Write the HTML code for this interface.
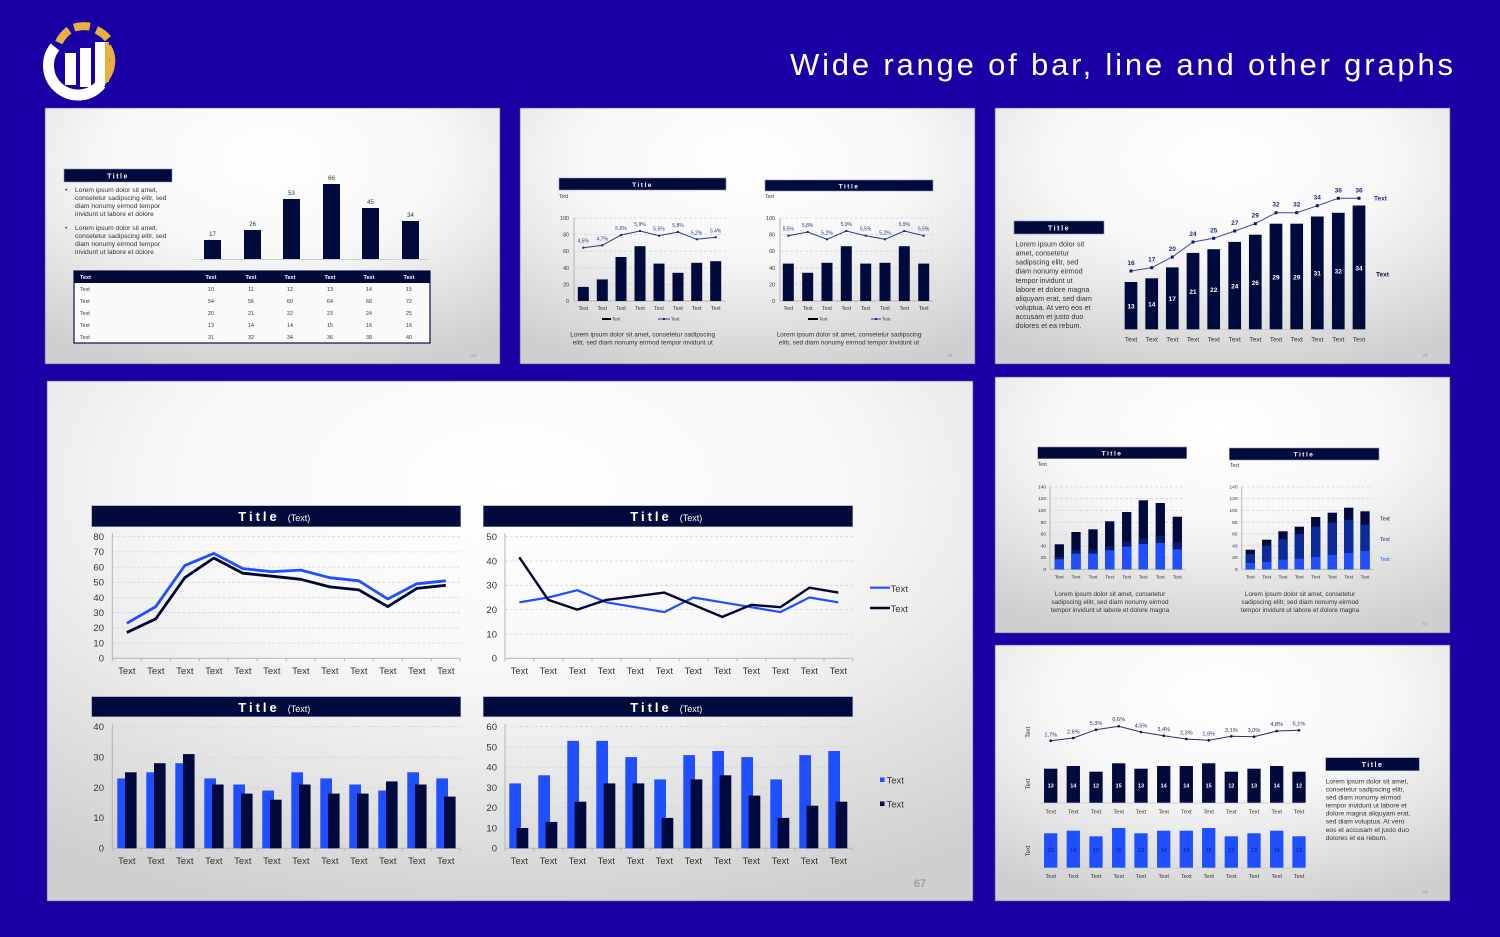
<!DOCTYPE html>
<html><head><meta charset="utf-8"><style>
html,body{margin:0;padding:0;background:#1800a5;}
svg{display:block}
text{font-family:"Liberation Sans",sans-serif;}
.g{fill:#333}
.w{fill:#fff}
.tb{fill:#000a3c;stroke:#8f93b8;stroke-width:0.6}
.grid{stroke:#d4d4d4;stroke-width:0.8;stroke-dasharray:3 2}
.ax{stroke:#b5b5b5;stroke-width:1}
.nv{fill:#000a3c}
.bl{fill:#1f4fff}
</style></head><body>
<svg width="1500" height="937" viewBox="0 0 1500 937" xmlns="http://www.w3.org/2000/svg">
<defs>
<radialGradient id="sg" cx="0.5" cy="0.2" r="0.85">
<stop offset="0" stop-color="#ffffff"/><stop offset="0.45" stop-color="#f7f7f7"/><stop offset="1" stop-color="#cfcfcf"/>
</radialGradient>
</defs>
<rect x="0" y="0" width="1500" height="937" fill="#1800a5"/>

<!-- Logo -->
<g fill="none" stroke-linecap="butt">
<path d="M 58.8 42.6 A 33 33 0 0 1 69.1 30.1" stroke="#e8b040" stroke-width="8"/>
<path d="M 74.1 27.6 A 33 33 0 0 1 89.9 26.7" stroke="#e8b040" stroke-width="8"/>
<path d="M 96.4 29.9 A 33 33 0 0 1 107.9 38.7" stroke="#e8b040" stroke-width="8"/>
<path d="M 55 47 A 29 29 0 0 0 101 84" stroke="#fff" stroke-width="11"/>
<path d="M 101 84 A 29 29 0 0 0 108 46" stroke="#e8b040" stroke-width="6"/>
</g>
<rect x="65" y="53" width="11" height="32" fill="#fff"/>
<rect x="80" y="48" width="11" height="39" fill="#fff"/>
<rect x="95" y="42" width="10" height="44" fill="#fff"/>
<rect x="105" y="42" width="4" height="40" fill="#e8b040"/>

<text x="790" y="75" font-size="31" fill="#fff" textLength="663" lengthAdjust="spacing">Wide range of bar, line and other graphs</text>

<!-- ===== Slide 1 ===== -->
<rect x="45" y="108" width="455" height="256" fill="url(#sg)" stroke="#55557a" stroke-width="0.6"/>
<rect class="tb" x="64" y="169" width="108" height="13"/>
<text class="w" x="118" y="178.5" font-size="7" font-weight="bold" letter-spacing="1.5" text-anchor="middle">Title</text>
<g class="g" font-size="6.7">
<text x="65" y="192">•</text><text x="75" y="192">Lorem ipsum dolor sit amet,</text>
<text x="75" y="200">consetetur sadipscing elitr, sed</text>
<text x="75" y="208">diam nonumy eirmod tempor</text>
<text x="75" y="216">invidunt ut labore et dolore</text>
<text x="65" y="230">•</text><text x="75" y="230">Lorem ipsum dolor sit amet,</text>
<text x="75" y="238">consetetur sadipscing elitr, sed</text>
<text x="75" y="246">diam nonumy eirmod tempor</text>
<text x="75" y="254">invidunt ut labore et dolore</text>
</g>
<line x1="193" y1="259.5" x2="429" y2="259.5" stroke="#d0d0d0"/>
<g class="nv">
<rect x="204" y="240" width="17" height="19"/>
<rect x="244" y="230" width="17" height="29"/>
<rect x="283" y="199" width="17" height="60"/>
<rect x="323" y="184" width="17" height="75"/>
<rect x="362" y="208" width="17" height="51"/>
<rect x="402" y="221" width="17" height="38"/>
</g>
<g class="g" font-size="6" text-anchor="middle">
<text x="212.5" y="236">17</text><text x="252.5" y="226">26</text><text x="291.5" y="195">53</text>
<text x="331.5" y="180">66</text><text x="370.5" y="204">45</text><text x="410.5" y="217">34</text>
</g>
<rect x="74" y="271" width="356" height="72" fill="#fafafa" stroke="#0a1045" stroke-width="1.2"/>
<rect x="74" y="271" width="356" height="12" fill="#000a3c"/>
<g class="w" font-size="5.5" font-weight="bold">
<text x="80" y="279">Text</text>
<g text-anchor="middle"><text x="211" y="279">Text</text><text x="251" y="279">Text</text><text x="290" y="279">Text</text><text x="330" y="279">Text</text><text x="369" y="279">Text</text><text x="409" y="279">Text</text></g>
</g>
<g class="g" font-size="5.3">
<text x="80" y="291">Text</text><text x="80" y="303">Text</text><text x="80" y="315">Text</text><text x="80" y="327">Text</text><text x="80" y="339">Text</text>
<g text-anchor="middle">
<text x="211" y="291">10</text><text x="251" y="291">11</text><text x="290" y="291">12</text><text x="330" y="291">13</text><text x="369" y="291">14</text><text x="409" y="291">15</text>
<text x="211" y="303">54</text><text x="251" y="303">56</text><text x="290" y="303">60</text><text x="330" y="303">64</text><text x="369" y="303">68</text><text x="409" y="303">72</text>
<text x="211" y="315">20</text><text x="251" y="315">21</text><text x="290" y="315">22</text><text x="330" y="315">23</text><text x="369" y="315">24</text><text x="409" y="315">25</text>
<text x="211" y="327">13</text><text x="251" y="327">14</text><text x="290" y="327">14</text><text x="330" y="327">15</text><text x="369" y="327">16</text><text x="409" y="327">16</text>
<text x="211" y="339">31</text><text x="251" y="339">32</text><text x="290" y="339">34</text><text x="330" y="339">36</text><text x="369" y="339">38</text><text x="409" y="339">40</text>
</g></g>
<text x="473" y="357" font-size="4.5" fill="#999" text-anchor="middle">119</text>

<!-- ===== Slide 2 ===== -->
<rect x="520" y="108" width="455" height="256" fill="url(#sg)" stroke="#55557a" stroke-width="0.6"/>
<!-- chart 1 -->
<rect class="tb" x="559" y="178" width="167" height="12"/>
<text class="w" x="642.5" y="187" font-size="6.5" font-weight="bold" letter-spacing="1.5" text-anchor="middle">Title</text>
<text class="g" x="559" y="198" font-size="5">Text</text>
<g class="grid"><line x1="574" y1="218" x2="726" y2="218"/><line x1="574" y1="234.6" x2="726" y2="234.6"/><line x1="574" y1="251.2" x2="726" y2="251.2"/><line x1="574" y1="267.8" x2="726" y2="267.8"/><line x1="574" y1="284.4" x2="726" y2="284.4"/></g>
<line class="ax" x1="574" y1="218" x2="574" y2="301"/><line class="ax" x1="574" y1="301" x2="726" y2="301"/>
<g class="g" font-size="5.3" text-anchor="end"><text x="569" y="220">100</text><text x="569" y="236.6">80</text><text x="569" y="253.2">60</text><text x="569" y="269.8">40</text><text x="569" y="286.4">20</text><text x="569" y="303">0</text></g>
<g class="nv">
<rect x="577.8" y="286.9" width="11" height="14.1"/><rect x="596.8" y="279.4" width="11" height="21.6"/><rect x="615.5" y="257" width="11" height="44"/><rect x="634.5" y="246.2" width="11" height="54.8"/>
<rect x="653.5" y="263.6" width="11" height="37.4"/><rect x="672.5" y="272.8" width="11" height="28.2"/><rect x="691.2" y="262.8" width="11" height="38.2"/><rect x="710.2" y="261.2" width="11" height="39.8"/>
</g>
<polyline points="583.3,247.7 602.3,245.3 621,235 640,231 659,235.7 678,232 696.7,239.3 715.7,237.3" fill="none" stroke="#2b3a8c" stroke-width="1"/>
<g fill="#1a2570"><rect x="582.3" y="246.7" width="2" height="2"/><rect x="601.3" y="244.3" width="2" height="2"/><rect x="620" y="234" width="2" height="2"/><rect x="639" y="230" width="2" height="2"/><rect x="658" y="234.7" width="2" height="2"/><rect x="677" y="231" width="2" height="2"/><rect x="695.7" y="238.3" width="2" height="2"/><rect x="714.7" y="236.3" width="2" height="2"/></g>
<g fill="#2b3a8c" font-size="5" text-anchor="middle"><text x="583.3" y="242.7">4,5%</text><text x="602.3" y="240.3">4,7%</text><text x="621" y="230">5,6%</text><text x="640" y="226">5,9%</text><text x="659" y="230.7">5,5%</text><text x="678" y="227">5,8%</text><text x="696.7" y="234.3">5,2%</text><text x="715.7" y="232.3">5,4%</text></g>
<g class="g" font-size="5.3" text-anchor="middle"><text x="583.3" y="310">Text</text><text x="602.3" y="310">Text</text><text x="621" y="310">Text</text><text x="640" y="310">Text</text><text x="659" y="310">Text</text><text x="678" y="310">Text</text><text x="696.7" y="310">Text</text><text x="715.7" y="310">Text</text></g>
<line x1="602" y1="319" x2="611" y2="319" stroke="#000" stroke-width="2"/><text class="g" x="612" y="320.5" font-size="4.6">Text</text>
<line x1="658" y1="319" x2="670" y2="319" stroke="#2b3a8c" stroke-width="1"/><rect x="663" y="318" width="2" height="2" fill="#1a2570"/><text class="g" x="671" y="320.5" font-size="4.6">Text</text>
<g class="g" font-size="6.5" text-anchor="middle"><text x="642.7" y="336.5">Lorem ipsum dolor sit amet, consetetur sadipscing</text><text x="642.7" y="344.5">elitr, sed diam nonumy eirmod tempor invidunt ut</text></g>
<!-- chart 2 -->
<rect class="tb" x="765" y="180" width="168" height="11"/>
<text class="w" x="849" y="188.5" font-size="6.5" font-weight="bold" letter-spacing="1.5" text-anchor="middle">Title</text>
<text class="g" x="765" y="198" font-size="5">Text</text>
<g class="grid"><line x1="780" y1="218" x2="933" y2="218"/><line x1="780" y1="234.6" x2="933" y2="234.6"/><line x1="780" y1="251.2" x2="933" y2="251.2"/><line x1="780" y1="267.8" x2="933" y2="267.8"/><line x1="780" y1="284.4" x2="933" y2="284.4"/></g>
<line class="ax" x1="780" y1="218" x2="780" y2="301"/><line class="ax" x1="780" y1="301" x2="933" y2="301"/>
<g class="g" font-size="5.3" text-anchor="end"><text x="775" y="220">100</text><text x="775" y="236.6">80</text><text x="775" y="253.2">60</text><text x="775" y="269.8">40</text><text x="775" y="286.4">20</text><text x="775" y="303">0</text></g>
<g class="nv">
<rect x="782.8" y="263.6" width="11" height="37.4"/><rect x="802.2" y="272.8" width="11" height="28.2"/><rect x="821.5" y="262.8" width="11" height="38.2"/><rect x="840.8" y="246.2" width="11" height="54.8"/>
<rect x="860.2" y="263.6" width="11" height="37.4"/><rect x="879.5" y="262.8" width="11" height="38.2"/><rect x="898.8" y="246.2" width="11" height="54.8"/><rect x="918.2" y="263.6" width="11" height="37.4"/>
</g>
<polyline points="788.3,235.7 807.7,232 827,239.3 846.3,231 865.7,235.7 885,239.3 904.3,231 923.7,235.7" fill="none" stroke="#2b3a8c" stroke-width="1"/>
<g fill="#1a2570"><rect x="787.3" y="234.7" width="2" height="2"/><rect x="806.7" y="231" width="2" height="2"/><rect x="826" y="238.3" width="2" height="2"/><rect x="845.3" y="230" width="2" height="2"/><rect x="864.7" y="234.7" width="2" height="2"/><rect x="884" y="238.3" width="2" height="2"/><rect x="903.3" y="230" width="2" height="2"/><rect x="922.7" y="234.7" width="2" height="2"/></g>
<g fill="#2b3a8c" font-size="5" text-anchor="middle"><text x="788.3" y="230.7">5,5%</text><text x="807.7" y="227">5,8%</text><text x="827" y="234.3">5,2%</text><text x="846.3" y="226">5,9%</text><text x="865.7" y="230.7">5,5%</text><text x="885" y="234.3">5,2%</text><text x="904.3" y="226">5,9%</text><text x="923.7" y="230.7">5,5%</text></g>
<g class="g" font-size="5.3" text-anchor="middle"><text x="788.3" y="310">Text</text><text x="807.7" y="310">Text</text><text x="827" y="310">Text</text><text x="846.3" y="310">Text</text><text x="865.7" y="310">Text</text><text x="885" y="310">Text</text><text x="904.3" y="310">Text</text><text x="923.7" y="310">Text</text></g>
<line x1="808" y1="319" x2="818" y2="319" stroke="#000" stroke-width="2"/><text class="g" x="819" y="320.5" font-size="4.6">Text</text>
<line x1="871" y1="319" x2="881" y2="319" stroke="#2b3a8c" stroke-width="1"/><rect x="875" y="318" width="2" height="2" fill="#1a2570"/><text class="g" x="882" y="320.5" font-size="4.6">Text</text>
<g class="g" font-size="6.5" text-anchor="middle"><text x="849" y="336.5">Lorem ipsum dolor sit amet, consetetur sadipscing</text><text x="849" y="344.5">elitr, sed diam nonumy eirmod tempor invidunt ut</text></g>
<text x="950" y="357" font-size="4.5" fill="#999" text-anchor="middle">59</text>

<!-- ===== Slide 3 ===== -->
<rect x="995" y="108" width="455" height="256" fill="url(#sg)" stroke="#55557a" stroke-width="0.6"/>
<rect class="tb" x="1014" y="221" width="90" height="13"/>
<text class="w" x="1059" y="230.5" font-size="7.2" font-weight="bold" letter-spacing="1.5" text-anchor="middle">Title</text>
<g class="g" font-size="7.2">
<text x="1015.5" y="246.5">Lorem ipsum dolor sit</text><text x="1015.5" y="255.5">amet, consetetur</text><text x="1015.5" y="264.5">sadipscing elitr, sed</text><text x="1015.5" y="273.5">diam nonumy eirmod</text><text x="1015.5" y="283">tempor invidunt ut</text>
<text x="1015.5" y="292">labore et dolore magna</text><text x="1015.5" y="301">aliquyam erat, sed diam</text><text x="1015.5" y="310">voluptua. At vero eos et</text><text x="1015.5" y="319">accusam et justo duo</text><text x="1015.5" y="328">dolores et ea rebum.</text>
</g>
<line x1="1120" y1="329.5" x2="1370" y2="329.5" stroke="#d0d0d0"/>
<g class="nv">
<rect x="1124.65" y="282" width="12.7" height="47.3"/><rect x="1145.35" y="278.3" width="12.7" height="51"/><rect x="1165.95" y="267.4" width="12.7" height="61.9"/><rect x="1186.65" y="252.9" width="12.7" height="76.4"/>
<rect x="1207.35" y="249.2" width="12.7" height="80.1"/><rect x="1228.35" y="241.9" width="12.7" height="87.4"/><rect x="1248.95" y="234.7" width="12.7" height="94.6"/><rect x="1269.65" y="223.7" width="12.7" height="105.6"/>
<rect x="1290.35" y="223.7" width="12.7" height="105.6"/><rect x="1310.95" y="216.5" width="12.7" height="112.8"/><rect x="1331.95" y="212.8" width="12.7" height="116.5"/><rect x="1352.65" y="205.5" width="12.7" height="123.8"/>
</g>
<g class="w" font-size="6.5" font-weight="bold" text-anchor="middle">
<text x="1131" y="308.7">13</text><text x="1151.7" y="306.7">14</text><text x="1172.3" y="301">17</text><text x="1193" y="294">21</text><text x="1213.7" y="292">22</text><text x="1234.7" y="288.3">24</text>
<text x="1255.3" y="285">26</text><text x="1276" y="279.3">29</text><text x="1296.7" y="279.3">29</text><text x="1317.3" y="275.7">31</text><text x="1338.3" y="273.7">32</text><text x="1359" y="270.3">34</text>
</g>
<polyline points="1131,271 1151.7,267.7 1172.3,257 1193,242 1213.7,238.3 1234.7,231 1255.3,223.7 1276,212.7 1296.7,212.7 1317.3,205.7 1338.3,198.3 1359,198.3" fill="none" stroke="#3a4a9a" stroke-width="1"/>
<g fill="#0b1a70"><rect x="1129.5" y="269.5" width="3" height="3"/><rect x="1150.2" y="266.2" width="3" height="3"/><rect x="1170.8" y="255.5" width="3" height="3"/><rect x="1191.5" y="240.5" width="3" height="3"/><rect x="1212.2" y="236.8" width="3" height="3"/><rect x="1233.2" y="229.5" width="3" height="3"/><rect x="1253.8" y="222.2" width="3" height="3"/><rect x="1274.5" y="211.2" width="3" height="3"/><rect x="1295.2" y="211.2" width="3" height="3"/><rect x="1315.8" y="204.2" width="3" height="3"/><rect x="1336.8" y="196.8" width="3" height="3"/><rect x="1357.5" y="196.8" width="3" height="3"/></g>
<g fill="#1a2a80" font-size="6.5" font-weight="bold" text-anchor="middle">
<text x="1131" y="265">16</text><text x="1151.7" y="261.7">17</text><text x="1172.3" y="251">20</text><text x="1193" y="236">24</text><text x="1213.7" y="232.3">25</text><text x="1234.7" y="225">27</text>
<text x="1255.3" y="217.7">29</text><text x="1276" y="206.7">32</text><text x="1296.7" y="206.7">32</text><text x="1317.3" y="199.7">34</text><text x="1338.3" y="192.3">36</text><text x="1359" y="192.3">36</text>
</g>
<g class="g" font-size="6.8" text-anchor="middle">
<text x="1131" y="341.5">Text</text><text x="1151.7" y="341.5">Text</text><text x="1172.3" y="341.5">Text</text><text x="1193" y="341.5">Text</text><text x="1213.7" y="341.5">Text</text><text x="1234.7" y="341.5">Text</text>
<text x="1255.3" y="341.5">Text</text><text x="1276" y="341.5">Text</text><text x="1296.7" y="341.5">Text</text><text x="1317.3" y="341.5">Text</text><text x="1338.3" y="341.5">Text</text><text x="1359" y="341.5">Text</text>
</g>
<text x="1374" y="200.5" font-size="6.5" font-weight="bold" fill="#1a2a80">Text</text>
<text x="1376" y="276.5" font-size="6.5" font-weight="bold" fill="#0a1040">Text</text>
<text x="1425" y="357" font-size="4.5" fill="#999" text-anchor="middle">75</text>

<!-- ===== Big slide ===== -->
<rect x="47" y="381" width="926" height="520" fill="url(#sg)" stroke="#55557a" stroke-width="0.6"/>
<!-- Chart A -->
<rect class="tb" x="91.7" y="505.7" width="369" height="21"/>
<text class="w" x="259" y="521" font-size="13" font-weight="bold" letter-spacing="3" text-anchor="middle">Title</text>
<text class="w" x="299" y="521" font-size="9" text-anchor="middle">(Text)</text>
<g class="grid"><line x1="112.3" y1="536.7" x2="460" y2="536.7"/><line x1="112.3" y1="551.9" x2="460" y2="551.9"/><line x1="112.3" y1="567.1" x2="460" y2="567.1"/><line x1="112.3" y1="582.3" x2="460" y2="582.3"/><line x1="112.3" y1="597.5" x2="460" y2="597.5"/><line x1="112.3" y1="612.7" x2="460" y2="612.7"/><line x1="112.3" y1="627.9" x2="460" y2="627.9"/><line x1="112.3" y1="643.1" x2="460" y2="643.1"/></g>
<line class="ax" x1="112.3" y1="533" x2="112.3" y2="658.3"/><line class="ax" x1="112.3" y1="658.3" x2="460" y2="658.3"/>
<path class="ax" d="M112.3 658.3v3M141.3 658.3v3M170.3 658.3v3M199.3 658.3v3M228.3 658.3v3M257.3 658.3v3M286.3 658.3v3M315.3 658.3v3M344.3 658.3v3M373.3 658.3v3M402.3 658.3v3M431.3 658.3v3M460 658.3v3"/>
<g class="g" font-size="9.5" text-anchor="end"><text x="104" y="540">80</text><text x="104" y="555.2">70</text><text x="104" y="570.4">60</text><text x="104" y="585.6">50</text><text x="104" y="600.8">40</text><text x="104" y="616">30</text><text x="104" y="631.2">20</text><text x="104" y="646.4">10</text><text x="104" y="661.6">0</text></g>
<polyline points="126.8,623.3 155.8,606.6 184.8,565.6 213.8,553.4 242.8,568.6 271.8,571.7 300.8,570.1 329.8,577.7 358.8,580.8 387.8,599 416.8,583.8 445.8,580.8" fill="none" stroke="#1f4fff" stroke-width="2.8" stroke-linejoin="round"/>
<polyline points="126.8,632.5 155.8,618.8 184.8,577.7 213.8,558 242.8,573.2 271.8,576.2 300.8,579.3 329.8,586.9 358.8,589.9 387.8,606.6 416.8,588.4 445.8,585.3" fill="none" stroke="#000633" stroke-width="2.8" stroke-linejoin="round"/>
<g class="g" font-size="9.5" text-anchor="middle">
<text x="126.8" y="674">Text</text><text x="155.8" y="674">Text</text><text x="184.8" y="674">Text</text><text x="213.8" y="674">Text</text><text x="242.8" y="674">Text</text><text x="271.8" y="674">Text</text>
<text x="300.8" y="674">Text</text><text x="329.8" y="674">Text</text><text x="358.8" y="674">Text</text><text x="387.8" y="674">Text</text><text x="416.8" y="674">Text</text><text x="445.8" y="674">Text</text>
</g>
<!-- Chart B -->
<rect class="tb" x="483.3" y="505.7" width="369.4" height="21"/>
<text class="w" x="651" y="521" font-size="13" font-weight="bold" letter-spacing="3" text-anchor="middle">Title</text>
<text class="w" x="691" y="521" font-size="9" text-anchor="middle">(Text)</text>
<g class="grid"><line x1="505" y1="536.7" x2="852.7" y2="536.7"/><line x1="505" y1="561" x2="852.7" y2="561"/><line x1="505" y1="585.3" x2="852.7" y2="585.3"/><line x1="505" y1="609.6" x2="852.7" y2="609.6"/><line x1="505" y1="634" x2="852.7" y2="634"/></g>
<line class="ax" x1="505" y1="533" x2="505" y2="658.3"/><line class="ax" x1="505" y1="658.3" x2="852.7" y2="658.3"/>
<path class="ax" d="M505 658.3v3M534 658.3v3M563 658.3v3M592 658.3v3M621 658.3v3M650 658.3v3M679 658.3v3M708 658.3v3M737 658.3v3M766 658.3v3M795 658.3v3M824 658.3v3M852.7 658.3v3"/>
<g class="g" font-size="9.5" text-anchor="end"><text x="497" y="540">50</text><text x="497" y="564.3">40</text><text x="497" y="588.6">30</text><text x="497" y="612.9">20</text><text x="497" y="637.3">10</text><text x="497" y="661.6">0</text></g>
<polyline points="519.3,602.3 548.3,597.5 577.3,590.2 606.3,602.3 635.3,607.2 664.3,612.1 693.3,597.5 722.3,602.3 751.3,607.2 780.3,612.1 809.3,597.5 838.3,602.3" fill="none" stroke="#1f4fff" stroke-width="2.2" stroke-linejoin="round"/>
<polyline points="519.3,557.3 548.3,599.9 577.3,609.6 606.3,599.9 635.3,596.3 664.3,592.6 693.3,604.8 722.3,616.9 751.3,604.8 780.3,607.2 809.3,587.7 838.3,592.6" fill="none" stroke="#000633" stroke-width="2.4" stroke-linejoin="round"/>
<g class="g" font-size="9.5" text-anchor="middle">
<text x="519.3" y="674">Text</text><text x="548.3" y="674">Text</text><text x="577.3" y="674">Text</text><text x="606.3" y="674">Text</text><text x="635.3" y="674">Text</text><text x="664.3" y="674">Text</text>
<text x="693.3" y="674">Text</text><text x="722.3" y="674">Text</text><text x="751.3" y="674">Text</text><text x="780.3" y="674">Text</text><text x="809.3" y="674">Text</text><text x="838.3" y="674">Text</text>
</g>
<line x1="870" y1="587.7" x2="890" y2="587.7" stroke="#1f4fff" stroke-width="2.2"/><text class="g" x="890.5" y="592" font-size="9.5">Text</text>
<line x1="870" y1="608" x2="890" y2="608" stroke="#000633" stroke-width="2.4"/><text class="g" x="890.5" y="612" font-size="9.5">Text</text>
<!-- Chart C -->
<rect class="tb" x="91.7" y="696.7" width="369" height="20"/>
<text class="w" x="259" y="712" font-size="13" font-weight="bold" letter-spacing="3" text-anchor="middle">Title</text>
<text class="w" x="299" y="712" font-size="9" text-anchor="middle">(Text)</text>
<g class="grid"><line x1="112.3" y1="726.7" x2="460" y2="726.7"/><line x1="112.3" y1="757.1" x2="460" y2="757.1"/><line x1="112.3" y1="787.5" x2="460" y2="787.5"/><line x1="112.3" y1="817.9" x2="460" y2="817.9"/></g>
<line class="ax" x1="112.3" y1="724" x2="112.3" y2="848.3"/><line class="ax" x1="112.3" y1="848.3" x2="460" y2="848.3"/>
<path class="ax" d="M112.3 848.3v3M141.3 848.3v3M170.3 848.3v3M199.3 848.3v3M228.3 848.3v3M257.3 848.3v3M286.3 848.3v3M315.3 848.3v3M344.3 848.3v3M373.3 848.3v3M402.3 848.3v3M431.3 848.3v3M460 848.3v3"/>
<g class="g" font-size="9.5" text-anchor="end"><text x="104" y="730">40</text><text x="104" y="760.4">30</text><text x="104" y="790.8">20</text><text x="104" y="821.2">10</text><text x="104" y="851.6">0</text></g>
<g class="bl">
<rect x="117.3" y="778.4" width="11.7" height="69.9"/><rect x="146.3" y="772.3" width="11.7" height="76"/><rect x="175.3" y="763.2" width="11.7" height="85.1"/><rect x="204.3" y="778.4" width="11.7" height="69.9"/>
<rect x="233.3" y="784.5" width="11.7" height="63.8"/><rect x="262.3" y="790.5" width="11.7" height="57.8"/><rect x="291.3" y="772.3" width="11.7" height="76"/><rect x="320.3" y="778.4" width="11.7" height="69.9"/>
<rect x="349.3" y="784.5" width="11.7" height="63.8"/><rect x="378.3" y="790.5" width="11.7" height="57.8"/><rect x="407.3" y="772.3" width="11.7" height="76"/><rect x="436.3" y="778.4" width="11.7" height="69.9"/>
</g>
<g class="nv">
<rect x="125" y="772.3" width="11.6" height="76"/><rect x="154" y="763.2" width="11.6" height="85.1"/><rect x="183" y="754.1" width="11.6" height="94.2"/><rect x="212" y="784.5" width="11.6" height="63.8"/>
<rect x="241" y="793.6" width="11.6" height="54.7"/><rect x="270" y="799.7" width="11.6" height="48.6"/><rect x="299" y="784.5" width="11.6" height="63.8"/><rect x="328" y="793.6" width="11.6" height="54.7"/>
<rect x="357" y="793.6" width="11.6" height="54.7"/><rect x="386" y="781.4" width="11.6" height="66.9"/><rect x="415" y="784.5" width="11.6" height="63.8"/><rect x="444" y="796.6" width="11.6" height="51.7"/>
</g>
<g class="g" font-size="9.5" text-anchor="middle">
<text x="126.8" y="864">Text</text><text x="155.8" y="864">Text</text><text x="184.8" y="864">Text</text><text x="213.8" y="864">Text</text><text x="242.8" y="864">Text</text><text x="271.8" y="864">Text</text>
<text x="300.8" y="864">Text</text><text x="329.8" y="864">Text</text><text x="358.8" y="864">Text</text><text x="387.8" y="864">Text</text><text x="416.8" y="864">Text</text><text x="445.8" y="864">Text</text>
</g>
<!-- Chart D -->
<rect class="tb" x="483.3" y="696.7" width="369.4" height="20"/>
<text class="w" x="651" y="712" font-size="13" font-weight="bold" letter-spacing="3" text-anchor="middle">Title</text>
<text class="w" x="691" y="712" font-size="9" text-anchor="middle">(Text)</text>
<g class="grid"><line x1="505" y1="726.7" x2="852.7" y2="726.7"/><line x1="505" y1="747" x2="852.7" y2="747"/><line x1="505" y1="767.2" x2="852.7" y2="767.2"/><line x1="505" y1="787.5" x2="852.7" y2="787.5"/><line x1="505" y1="807.8" x2="852.7" y2="807.8"/><line x1="505" y1="828" x2="852.7" y2="828"/></g>
<line class="ax" x1="505" y1="724" x2="505" y2="848.3"/><line class="ax" x1="505" y1="848.3" x2="852.7" y2="848.3"/>
<path class="ax" d="M505 848.3v3M534 848.3v3M563 848.3v3M592 848.3v3M621 848.3v3M650 848.3v3M679 848.3v3M708 848.3v3M737 848.3v3M766 848.3v3M795 848.3v3M824 848.3v3M852.7 848.3v3"/>
<g class="g" font-size="9.5" text-anchor="end"><text x="497" y="730">60</text><text x="497" y="750.3">50</text><text x="497" y="770.5">40</text><text x="497" y="790.8">30</text><text x="497" y="811.1">20</text><text x="497" y="831.3">10</text><text x="497" y="851.6">0</text></g>
<g class="bl">
<rect x="509.3" y="783.4" width="11.7" height="64.9"/><rect x="538.3" y="775.3" width="11.7" height="73"/><rect x="567.3" y="740.9" width="11.7" height="107.4"/><rect x="596.3" y="740.9" width="11.7" height="107.4"/>
<rect x="625.3" y="757.1" width="11.7" height="91.2"/><rect x="654.3" y="779.4" width="11.7" height="68.9"/><rect x="683.3" y="755.1" width="11.7" height="93.2"/><rect x="712.3" y="751" width="11.7" height="97.3"/>
<rect x="741.3" y="757.1" width="11.7" height="91.2"/><rect x="770.3" y="779.4" width="11.7" height="68.9"/><rect x="799.3" y="755.1" width="11.7" height="93.2"/><rect x="828.3" y="751" width="11.7" height="97.3"/>
</g>
<g class="nv">
<rect x="516.6" y="828" width="11.7" height="20.3"/><rect x="545.6" y="821.9" width="11.7" height="26.4"/><rect x="574.6" y="801.7" width="11.7" height="46.6"/><rect x="603.6" y="783.4" width="11.7" height="64.9"/>
<rect x="632.6" y="783.4" width="11.7" height="64.9"/><rect x="661.6" y="817.9" width="11.7" height="30.4"/><rect x="690.6" y="779.4" width="11.7" height="68.9"/><rect x="719.6" y="775.3" width="11.7" height="73"/>
<rect x="748.6" y="795.6" width="11.7" height="52.7"/><rect x="777.6" y="817.9" width="11.7" height="30.4"/><rect x="806.6" y="805.7" width="11.7" height="42.6"/><rect x="835.6" y="801.7" width="11.7" height="46.6"/>
</g>
<g class="g" font-size="9.5" text-anchor="middle">
<text x="519.3" y="864">Text</text><text x="548.3" y="864">Text</text><text x="577.3" y="864">Text</text><text x="606.3" y="864">Text</text><text x="635.3" y="864">Text</text><text x="664.3" y="864">Text</text>
<text x="693.3" y="864">Text</text><text x="722.3" y="864">Text</text><text x="751.3" y="864">Text</text><text x="780.3" y="864">Text</text><text x="809.3" y="864">Text</text><text x="838.3" y="864">Text</text>
</g>
<rect x="880" y="777.5" width="4.5" height="4.5" fill="#1f4fff"/><text class="g" x="886.5" y="783.5" font-size="9.5">Text</text>
<rect x="880" y="801.5" width="4.5" height="4.5" fill="#000a3c"/><text class="g" x="886.5" y="807.5" font-size="9.5">Text</text>
<text x="920" y="887" font-size="11" fill="#888" text-anchor="middle">67</text>

<!-- ===== Slide 5 ===== -->
<rect x="995" y="377" width="455" height="256" fill="url(#sg)" stroke="#55557a" stroke-width="0.6"/>
<!-- chart 1 -->
<rect class="tb" x="1037.7" y="447" width="149" height="11.7"/>
<text class="w" x="1112" y="455.5" font-size="6.5" font-weight="bold" letter-spacing="1.5" text-anchor="middle">Title</text>
<text class="g" x="1037.7" y="466" font-size="5">Text</text>
<g class="grid"><line x1="1050" y1="487" x2="1185" y2="487"/><line x1="1050" y1="498.7" x2="1185" y2="498.7"/><line x1="1050" y1="510.5" x2="1185" y2="510.5"/><line x1="1050" y1="522.3" x2="1185" y2="522.3"/><line x1="1050" y1="534" x2="1185" y2="534"/><line x1="1050" y1="545.8" x2="1185" y2="545.8"/><line x1="1050" y1="557.5" x2="1185" y2="557.5"/></g>
<line class="ax" x1="1050" y1="487" x2="1050" y2="569.3"/><line class="ax" x1="1050" y1="569.3" x2="1185" y2="569.3"/>
<g class="g" font-size="4.8" text-anchor="end"><text x="1046" y="488.5">140</text><text x="1046" y="500.2">120</text><text x="1046" y="512">100</text><text x="1046" y="523.8">80</text><text x="1046" y="535.5">60</text><text x="1046" y="547.3">40</text><text x="1046" y="559">20</text><text x="1046" y="570.8">0</text></g>
<g class="nv">
<rect x="1054.65" y="544.3" width="9.3" height="25"/><rect x="1071.35" y="532" width="9.3" height="37.3"/><rect x="1088.35" y="529.3" width="9.3" height="40"/><rect x="1105.05" y="521.3" width="9.3" height="48"/>
<rect x="1122.05" y="512" width="9.3" height="57.3"/><rect x="1138.65" y="500.3" width="9.3" height="69"/><rect x="1155.65" y="503" width="9.3" height="66.3"/><rect x="1172.65" y="516.7" width="9.3" height="52.6"/>
</g>
<g fill="#0a1a6e">
<rect x="1054.65" y="557" width="9.3" height="12.3"/><rect x="1071.35" y="550.3" width="9.3" height="19"/><rect x="1088.35" y="549.7" width="9.3" height="19.6"/><rect x="1105.05" y="546" width="9.3" height="23.3"/>
<rect x="1122.05" y="541.3" width="9.3" height="28"/><rect x="1138.65" y="538.7" width="9.3" height="30.6"/><rect x="1155.65" y="536" width="9.3" height="33.3"/><rect x="1172.65" y="542.3" width="9.3" height="27"/>
</g>
<g class="bl">
<rect x="1054.65" y="559.3" width="9.3" height="10"/><rect x="1071.35" y="553.7" width="9.3" height="15.6"/><rect x="1088.35" y="553.7" width="9.3" height="15.6"/><rect x="1105.05" y="550.3" width="9.3" height="19"/>
<rect x="1122.05" y="546.7" width="9.3" height="22.6"/><rect x="1138.65" y="544" width="9.3" height="25.3"/><rect x="1155.65" y="543" width="9.3" height="26.3"/><rect x="1172.65" y="549.3" width="9.3" height="20"/>
</g>
<g class="g" font-size="4.9" text-anchor="middle"><text x="1059.3" y="578.5">Text</text><text x="1076" y="578.5">Text</text><text x="1093" y="578.5">Text</text><text x="1109.7" y="578.5">Text</text><text x="1126.7" y="578.5">Text</text><text x="1143.3" y="578.5">Text</text><text x="1160.3" y="578.5">Text</text><text x="1177.3" y="578.5">Text</text></g>
<g class="g" font-size="6.4" text-anchor="middle"><text x="1110" y="596">Lorem ipsum dolor sit amet, consetetur</text><text x="1110" y="604.2">sadipscing elitr, sed diam nonumy eirmod</text><text x="1110" y="612.2">tempor invidunt ut labore et dolore magna</text></g>
<!-- chart 2 -->
<rect class="tb" x="1229.3" y="448" width="149.7" height="12"/>
<text class="w" x="1304" y="456.5" font-size="6.5" font-weight="bold" letter-spacing="1.5" text-anchor="middle">Title</text>
<text class="g" x="1230" y="467" font-size="5">Text</text>
<g class="grid"><line x1="1241.7" y1="487" x2="1372.7" y2="487"/><line x1="1241.7" y1="498.7" x2="1372.7" y2="498.7"/><line x1="1241.7" y1="510.5" x2="1372.7" y2="510.5"/><line x1="1241.7" y1="522.3" x2="1372.7" y2="522.3"/><line x1="1241.7" y1="534" x2="1372.7" y2="534"/><line x1="1241.7" y1="545.8" x2="1372.7" y2="545.8"/><line x1="1241.7" y1="557.5" x2="1372.7" y2="557.5"/></g>
<line class="ax" x1="1241.7" y1="487" x2="1241.7" y2="569.3"/><line class="ax" x1="1241.7" y1="569.3" x2="1372.7" y2="569.3"/>
<g class="g" font-size="4.8" text-anchor="end"><text x="1237.5" y="488.5">140</text><text x="1237.5" y="500.2">120</text><text x="1237.5" y="512">100</text><text x="1237.5" y="523.8">80</text><text x="1237.5" y="535.5">60</text><text x="1237.5" y="547.3">40</text><text x="1237.5" y="559">20</text><text x="1237.5" y="570.8">0</text></g>
<g class="nv">
<rect x="1245.65" y="549.7" width="9.3" height="19.6"/><rect x="1262.05" y="539.7" width="9.3" height="29.6"/><rect x="1278.35" y="531.3" width="9.3" height="38"/><rect x="1294.65" y="526.7" width="9.3" height="42.6"/>
<rect x="1311.05" y="517" width="9.3" height="52.3"/><rect x="1327.65" y="512.7" width="9.3" height="56.6"/><rect x="1344.05" y="507.7" width="9.3" height="61.6"/><rect x="1360.35" y="511.3" width="9.3" height="58"/>
</g>
<g fill="#0c2a9a">
<rect x="1245.65" y="554" width="9.3" height="15.3"/><rect x="1262.05" y="545.7" width="9.3" height="23.6"/><rect x="1278.35" y="539" width="9.3" height="30.3"/><rect x="1294.65" y="534" width="9.3" height="35.3"/>
<rect x="1311.05" y="526.7" width="9.3" height="42.6"/><rect x="1327.65" y="522.7" width="9.3" height="46.6"/><rect x="1344.05" y="520" width="9.3" height="49.3"/><rect x="1360.35" y="524.7" width="9.3" height="44.6"/>
</g>
<g class="bl">
<rect x="1245.65" y="563" width="9.3" height="6.3"/><rect x="1262.05" y="562" width="9.3" height="7.3"/><rect x="1278.35" y="559.7" width="9.3" height="9.6"/><rect x="1294.65" y="558.7" width="9.3" height="10.6"/>
<rect x="1311.05" y="557" width="9.3" height="12.3"/><rect x="1327.65" y="555" width="9.3" height="14.3"/><rect x="1344.05" y="553" width="9.3" height="16.3"/><rect x="1360.35" y="551" width="9.3" height="18.3"/>
</g>
<g class="g" font-size="4.9" text-anchor="middle"><text x="1250.3" y="578.5">Text</text><text x="1266.7" y="578.5">Text</text><text x="1283" y="578.5">Text</text><text x="1299.3" y="578.5">Text</text><text x="1315.7" y="578.5">Text</text><text x="1332.3" y="578.5">Text</text><text x="1348.7" y="578.5">Text</text><text x="1365" y="578.5">Text</text></g>
<text x="1380" y="520.5" font-size="5.3" fill="#000a3c">Text</text>
<text x="1380" y="541" font-size="5.3" fill="#0c2a9a">Text</text>
<text x="1380" y="561" font-size="5.3" fill="#1f4fff">Text</text>
<g class="g" font-size="6.4" text-anchor="middle"><text x="1300" y="596">Lorem ipsum dolor sit amet, consetetur</text><text x="1300" y="604.2">sadipscing elitr, sed diam nonumy eirmod</text><text x="1300" y="612.2">tempor invidunt ut labore et dolore magna</text></g>
<text x="1425" y="625.5" font-size="4.5" fill="#999" text-anchor="middle">57</text>

<!-- ===== Slide 6 ===== -->
<rect x="995" y="645" width="455" height="256" fill="url(#sg)" stroke="#55557a" stroke-width="0.6"/>
<g class="g" font-size="6" text-anchor="middle">
<text transform="translate(1030,732.3) rotate(-90)">Text</text>
<text transform="translate(1030,784) rotate(-90)">Text</text>
<text transform="translate(1030,851) rotate(-90)">Text</text>
</g>
<polyline points="1050.7,740.7 1073.3,738 1096,729.7 1118.7,726.3 1141,732 1163.7,735.7 1186.3,739 1208.7,740.3 1231.3,736.3 1254,736.7 1276.7,731 1299,730.3" fill="none" stroke="#2a2f6b" stroke-width="1"/>
<g fill="#0a1040"><circle cx="1050.7" cy="740.7" r="1.3"/><circle cx="1073.3" cy="738" r="1.3"/><circle cx="1096" cy="729.7" r="1.3"/><circle cx="1118.7" cy="726.3" r="1.3"/><circle cx="1141" cy="732" r="1.3"/><circle cx="1163.7" cy="735.7" r="1.3"/><circle cx="1186.3" cy="739" r="1.3"/><circle cx="1208.7" cy="740.3" r="1.3"/><circle cx="1231.3" cy="736.3" r="1.3"/><circle cx="1254" cy="736.7" r="1.3"/><circle cx="1276.7" cy="731" r="1.3"/><circle cx="1299" cy="730.3" r="1.3"/></g>
<g fill="#2a2f6b" font-size="5.6" text-anchor="middle">
<text x="1050.7" y="736.3">1,7%</text><text x="1073.3" y="733.3">2,6%</text><text x="1096" y="725">5,3%</text><text x="1118.7" y="721">6,6%</text><text x="1141" y="727.7">4,5%</text><text x="1163.7" y="731">3,4%</text>
<text x="1186.3" y="734.3">2,3%</text><text x="1208.7" y="735.3">1,9%</text><text x="1231.3" y="732">3,1%</text><text x="1254" y="732">3,0%</text><text x="1276.7" y="726">4,8%</text><text x="1299" y="725.3">5,1%</text>
</g>
<line x1="1040" y1="803" x2="1305" y2="803" stroke="#d0d0d0"/>
<g class="nv">
<rect x="1044.05" y="768.7" width="13.3" height="34"/><rect x="1066.65" y="766" width="13.3" height="36.7"/><rect x="1089.35" y="771.7" width="13.3" height="31"/><rect x="1112.05" y="763.3" width="13.3" height="39.4"/>
<rect x="1134.35" y="768.7" width="13.3" height="34"/><rect x="1157.05" y="766" width="13.3" height="36.7"/><rect x="1179.65" y="766" width="13.3" height="36.7"/><rect x="1202.05" y="763.3" width="13.3" height="39.4"/>
<rect x="1224.65" y="771.7" width="13.3" height="31"/><rect x="1247.35" y="768.7" width="13.3" height="34"/><rect x="1270.05" y="766" width="13.3" height="36.7"/><rect x="1292.35" y="771.7" width="13.3" height="31"/>
</g>
<g class="w" font-size="5.5" font-weight="bold" text-anchor="middle">
<text x="1050.7" y="787.7">13</text><text x="1073.3" y="787.7">14</text><text x="1096" y="787.7">12</text><text x="1118.7" y="787.7">15</text><text x="1141" y="787.7">13</text><text x="1163.7" y="787.7">14</text>
<text x="1186.3" y="787.7">14</text><text x="1208.7" y="787.7">15</text><text x="1231.3" y="787.7">12</text><text x="1254" y="787.7">13</text><text x="1276.7" y="787.7">14</text><text x="1299" y="787.7">12</text>
</g>
<g class="g" font-size="5.8" text-anchor="middle">
<text x="1050.7" y="813.3">Text</text><text x="1073.3" y="813.3">Text</text><text x="1096" y="813.3">Text</text><text x="1118.7" y="813.3">Text</text><text x="1141" y="813.3">Text</text><text x="1163.7" y="813.3">Text</text>
<text x="1186.3" y="813.3">Text</text><text x="1208.7" y="813.3">Text</text><text x="1231.3" y="813.3">Text</text><text x="1254" y="813.3">Text</text><text x="1276.7" y="813.3">Text</text><text x="1299" y="813.3">Text</text>
</g>
<line x1="1040" y1="868" x2="1305" y2="868" stroke="#d0d0d0"/>
<g class="bl">
<rect x="1044.05" y="833.3" width="13.3" height="34.4"/><rect x="1066.65" y="830.7" width="13.3" height="37"/><rect x="1089.35" y="836.3" width="13.3" height="31.4"/><rect x="1112.05" y="828" width="13.3" height="39.7"/>
<rect x="1134.35" y="833.3" width="13.3" height="34.4"/><rect x="1157.05" y="830.7" width="13.3" height="37"/><rect x="1179.65" y="830.7" width="13.3" height="37"/><rect x="1202.05" y="828" width="13.3" height="39.7"/>
<rect x="1224.65" y="836.3" width="13.3" height="31.4"/><rect x="1247.35" y="833.3" width="13.3" height="34.4"/><rect x="1270.05" y="830.7" width="13.3" height="37"/><rect x="1292.35" y="836.3" width="13.3" height="31.4"/>
</g>
<g fill="#0a1a6e" font-size="5.5" text-anchor="middle">
<text x="1050.7" y="852">13</text><text x="1073.3" y="852">14</text><text x="1096" y="852">12</text><text x="1118.7" y="852">15</text><text x="1141" y="852">13</text><text x="1163.7" y="852">14</text>
<text x="1186.3" y="852">14</text><text x="1208.7" y="852">15</text><text x="1231.3" y="852">12</text><text x="1254" y="852">13</text><text x="1276.7" y="852">14</text><text x="1299" y="852">12</text>
</g>
<g class="g" font-size="5.8" text-anchor="middle">
<text x="1050.7" y="878">Text</text><text x="1073.3" y="878">Text</text><text x="1096" y="878">Text</text><text x="1118.7" y="878">Text</text><text x="1141" y="878">Text</text><text x="1163.7" y="878">Text</text>
<text x="1186.3" y="878">Text</text><text x="1208.7" y="878">Text</text><text x="1231.3" y="878">Text</text><text x="1254" y="878">Text</text><text x="1276.7" y="878">Text</text><text x="1299" y="878">Text</text>
</g>
<rect class="tb" x="1325.7" y="757.7" width="93.6" height="13"/>
<text class="w" x="1372.5" y="767" font-size="7" font-weight="bold" letter-spacing="1.5" text-anchor="middle">Title</text>
<g class="g" font-size="6.7">
<text x="1325.7" y="783.7">Lorem ipsum dolor sit amet,</text><text x="1325.7" y="791.7">consetetur sadipscing elitr,</text><text x="1325.7" y="799.7">sed diam nonumy eirmod</text><text x="1325.7" y="807.7">tempor invidunt ut labore et</text>
<text x="1325.7" y="815.7">dolore magna aliquyam erat,</text><text x="1325.7" y="823.7">sed diam voluptua. At vero</text><text x="1325.7" y="832">eos et accusam et justo duo</text><text x="1325.7" y="840">dolores et ea rebum.</text>
</g>
<text x="1425" y="894" font-size="4.5" fill="#999" text-anchor="middle">78</text>
</svg>
</body></html>
